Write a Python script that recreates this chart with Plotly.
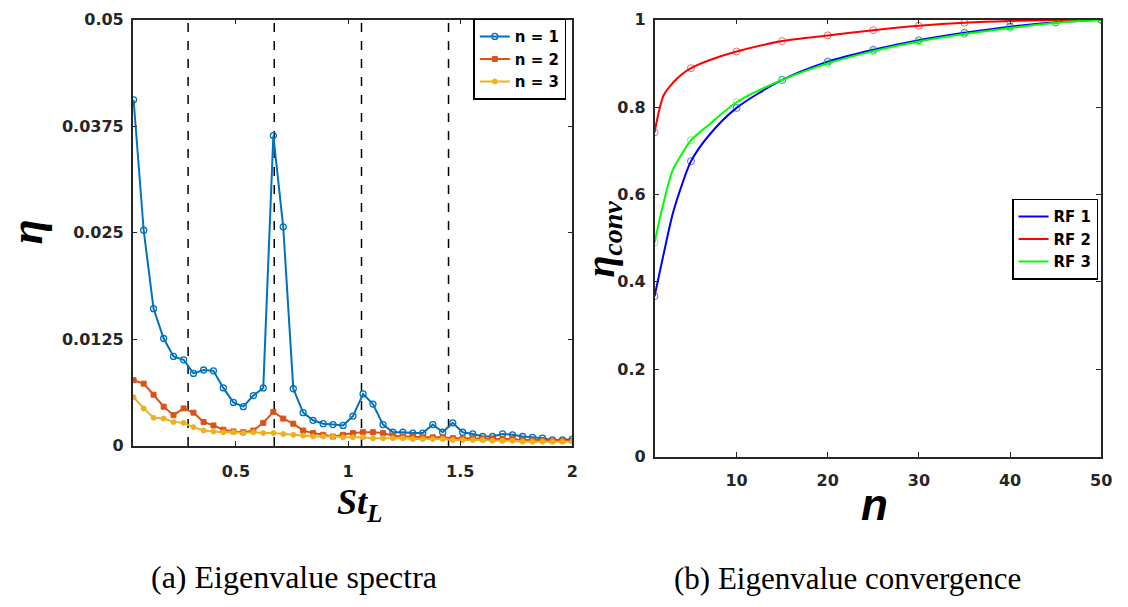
import plotly.graph_objects as go

# ---------------- (a) eigenvalue spectra ----------------
st_l = [0.044, 0.089, 0.133, 0.178, 0.222, 0.267, 0.311, 0.356, 0.400, 0.444,
        0.489, 0.533, 0.578, 0.622, 0.667, 0.711, 0.756, 0.800, 0.844, 0.889,
        0.933, 0.978, 1.022, 1.067, 1.111, 1.156, 1.200, 1.244, 1.289, 1.333,
        1.378, 1.422, 1.467, 1.511, 1.556, 1.600, 1.644, 1.689, 1.733, 1.778,
        1.822, 1.867, 1.911, 1.956, 2.000]

eta_n1 = [0.0406, 0.0253, 0.0161, 0.0126, 0.0105, 0.0101, 0.0085, 0.0089, 0.0088, 0.0068,
          0.0051, 0.0046, 0.0059, 0.0068, 0.0364, 0.0257, 0.0067, 0.0039, 0.0030, 0.0026,
          0.0025, 0.0024, 0.0035, 0.0061, 0.0049, 0.0025, 0.0016, 0.0016, 0.0015, 0.0015,
          0.0025, 0.0016, 0.0027, 0.0016, 0.0014, 0.0011, 0.0011, 0.0014, 0.0013, 0.0011,
          0.0010, 0.0009, 0.0007, 0.0007, 0.0008]

eta_n2 = [0.0077, 0.0073, 0.0060, 0.0046, 0.0036, 0.0044, 0.0039, 0.0028, 0.0024, 0.0019,
          0.0017, 0.0016, 0.0018, 0.0027, 0.0040, 0.0032, 0.0026, 0.0018, 0.0015, 0.0013,
          0.0011, 0.0013, 0.0015, 0.0016, 0.0016, 0.0015, 0.0012, 0.0011, 0.0011, 0.0010,
          0.0010, 0.0010, 0.0009, 0.0009, 0.0009, 0.0008, 0.0008, 0.0008, 0.0008, 0.0007,
          0.0007, 0.0007, 0.0006, 0.0006, 0.0006]

eta_n3 = [0.0057, 0.0044, 0.0033, 0.0032, 0.0028, 0.0027, 0.0022, 0.0018, 0.0017, 0.0016,
          0.0016, 0.0015, 0.0016, 0.0015, 0.0015, 0.0014, 0.0013, 0.0012, 0.0011, 0.0011,
          0.0011, 0.0010, 0.0010, 0.0010, 0.0009, 0.0009, 0.0009, 0.0009, 0.0008, 0.0008,
          0.0008, 0.0008, 0.0007, 0.0007, 0.0007, 0.0007, 0.0006, 0.0006, 0.0006, 0.0005,
          0.0005, 0.0005, 0.0005, 0.0005, 0.0005]

harmonic_st = [0.287, 0.671, 1.06, 1.448]

eta_ticks = [0, 0.0125, 0.025, 0.0375, 0.05]
eta_ticktext = ["0", "0.0125", "0.025", "0.0375", "0.05"]
st_ticks = [0.5, 1, 1.5, 2]
st_ticktext = ["0.5", "1", "1.5", "2"]

# ---------------- (b) eigenvalue convergence ----------------
n_modes = [1, 2, 3, 4, 5, 7, 10, 15, 20, 25, 30, 35, 40, 45, 50]
conv_rf1 = [0.367, 0.464, 0.556, 0.622, 0.676, 0.736, 0.798, 0.862, 0.904, 0.931,
            0.953, 0.970, 0.984, 0.994, 1.000]
conv_rf2 = [0.742, 0.827, 0.855, 0.875, 0.889, 0.907, 0.927, 0.951, 0.964, 0.976,
            0.986, 0.993, 0.997, 0.999, 1.000]
conv_rf3 = [0.490, 0.582, 0.656, 0.693, 0.724, 0.760, 0.811, 0.862, 0.900, 0.928,
            0.950, 0.967, 0.981, 0.993, 1.000]
marker_modes = [1, 5, 10, 15, 20, 25, 30, 35, 40, 45, 50]

n_ticks = [10, 20, 30, 40, 50]
conv_ticks = [0, 0.2, 0.4, 0.6, 0.8, 1]
conv_ticktext = ["0", "0.2", "0.4", "0.6", "0.8", "1"]

W, H = 1128, 607
AX = "#262626"
TICKFONT = dict(family="DejaVu Sans", size=16, color=AX, weight="bold")


def px(x):
    return x / W


def py(y):
    return 1 - y / H


fig = go.Figure()

spec_series = [
    ("n = 1", eta_n1, "#0072BD", dict(symbol="circle-open", size=6, line=dict(width=1.3))),
    ("n = 2", eta_n2, "#D95319", dict(symbol="square", size=5, line=dict(width=1, color="#D95319"))),
    ("n = 3", eta_n3, "#EDB120", dict(symbol="circle", size=5, line=dict(width=1, color="#EDB120"))),
]
for name, vals, col, mk in spec_series:
    fig.add_trace(go.Scatter(
        x=st_l, y=vals, name=name, mode="lines+markers",
        line=dict(color=col, width=2), marker=dict(color=col, **mk),
        xaxis="x", yaxis="y", legend="legend",
    ))

conv_series = [
    ("RF 1", conv_rf1, "#0000FF"),
    ("RF 2", conv_rf2, "#FF0000"),
    ("RF 3", conv_rf3, "#00FF00"),
]
for name, vals, col in conv_series:
    fig.add_trace(go.Scatter(
        x=n_modes, y=vals, name=name, mode="lines",
        line=dict(color=col, width=2, shape="spline", smoothing=0.8),
        xaxis="x2", yaxis="y2", legend="legend2",
    ))
    lookup = dict(zip(n_modes, vals))
    fig.add_trace(go.Scatter(
        x=marker_modes, y=[lookup[m] for m in marker_modes], mode="markers",
        marker=dict(symbol="circle-open", size=7, color=col, opacity=0.6, line=dict(width=1)),
        showlegend=False, hoverinfo="skip", xaxis="x2", yaxis="y2",
    ))

for s in harmonic_st:
    fig.add_shape(type="line", xref="x", yref="y domain", x0=s, x1=s, y0=0, y1=1,
                  line=dict(color="black", width=1.5, dash="dash"), layer="below")

axis_common = dict(
    showline=True, linecolor=AX, linewidth=1.5, mirror="ticks",
    ticks="inside", ticklen=5, tickwidth=1, tickcolor=AX,
    showgrid=False, zeroline=False, tickfont=TICKFONT,
)

fig.update_layout(
    width=W, height=H,
    margin=dict(l=0, r=0, t=0, b=0),
    paper_bgcolor="white", plot_bgcolor="white",
    xaxis=dict(domain=[px(134), px(578)], range=[0.04, 2.0], anchor="y",
               tickvals=st_ticks, ticktext=st_ticktext, ticklabelstandoff=10, **axis_common),
    yaxis=dict(domain=[py(451), py(11)], range=[0, 0.05], anchor="x",
               tickvals=eta_ticks, ticktext=eta_ticktext, ticklabelstandoff=4, **axis_common),
    xaxis2=dict(domain=[px(661), px(1112)], range=[1, 50], anchor="y2",
                tickvals=n_ticks, ticklabelstandoff=9, **axis_common),
    yaxis2=dict(domain=[py(462), py(11)], range=[0, 1], anchor="x2",
                tickvals=conv_ticks, ticktext=conv_ticktext, ticklabelstandoff=4, **axis_common),
    legend=dict(x=px(478), y=py(10), xanchor="left", yanchor="top",
                bgcolor="white", bordercolor="black", borderwidth=1.5,
                font=dict(family="DejaVu Sans", size=15, color="black", weight="bold"),
                itemwidth=30, tracegroupgap=0),
    legend2=dict(x=px(1022), y=py(196), xanchor="left", yanchor="top",
                 bgcolor="white", bordercolor="black", borderwidth=1.5,
                 font=dict(family="DejaVu Sans", size=15, color="black", weight="bold"),
                 itemwidth=30, tracegroupgap=0),
    showlegend=True,
)

annotations = [
    dict(x=px(27), y=py(230), text="<b><i>η</i></b>", textangle=-90,
         font=dict(family="Liberation Serif", size=46, color="black")),
    dict(x=px(363), y=py(512), text="<b><i>St<sub>L</sub></i></b>",
         font=dict(family="Liberation Serif", size=36, color="black")),
    dict(x=px(608), y=py(238), text="<b><i>η<sub>conv</sub></i></b>", textangle=-90,
         font=dict(family="Liberation Serif", size=40, color="black")),
    dict(x=px(883), y=py(512), text="<b><i>n</i></b>",
         font=dict(family="Liberation Sans", size=44, color="black")),
    dict(x=px(297), y=py(586), text="(a) Eigenvalue spectra",
         font=dict(family="Liberation Serif", size=32, color="black")),
    dict(x=px(856), y=py(588), text="(b) Eigenvalue convergence",
         font=dict(family="Liberation Serif", size=31, color="black")),
]
for a in annotations:
    fig.add_annotation(xref="paper", yref="paper", showarrow=False,
                       xanchor="center", yanchor="middle", **a)

fig.write_html("out.html")
